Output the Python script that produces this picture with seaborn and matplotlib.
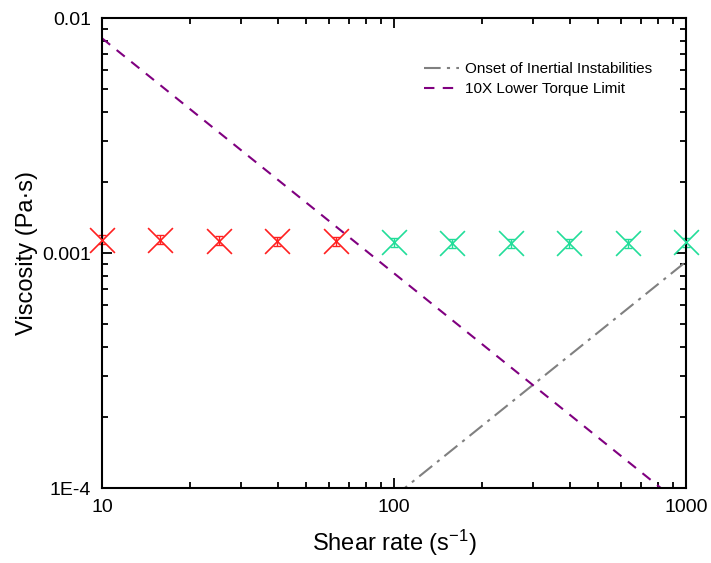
import numpy as np
import seaborn as sns
import matplotlib.pyplot as plt
import matplotlib.ticker as mticker

# measured viscosity points
rate_low = [10, 15.8, 25.1, 39.8, 63.1]
visc_low = [0.00114, 0.00114, 0.00113, 0.00112, 0.00112]
err_low = [0.00005, 0.00005, 0.00005, 0.00005, 0.00005]

rate_high = [100, 158, 251, 398, 631, 1000]
visc_high = [0.00111, 0.00110, 0.00110, 0.00110, 0.00110, 0.00111]
err_high = [0.00005, 0.00005, 0.00005, 0.00005, 0.00005, 0.00005]

# limit lines (straight in log-log, endpoints)
onset_rate = [100, 1000]
onset_visc = [0.000092, 0.00092]
torque_rate = [10, 1000]
torque_visc = [0.0082, 0.000082]

y_ticks = [1e-4, 1e-3, 1e-2]
y_labels = ['1E-4', '0.001', '0.01']
x_ticks = [10, 100, 1000]
x_labels = ['10', '100', '1000']

sns.set_style('ticks')
plt.rcParams['font.family'] = ['Liberation Sans', 'DejaVu Sans']
plt.rcParams['mathtext.fontset'] = 'custom'
plt.rcParams['mathtext.rm'] = 'Liberation Sans'
plt.rcParams['mathtext.it'] = 'Liberation Sans'
plt.rcParams['text.color'] = 'black'
plt.rcParams['axes.labelcolor'] = 'black'

fig, ax = plt.subplots(figsize=(7.11, 5.63), dpi=100)
fig.subplots_adjust(left=0.1435, right=0.965, top=0.968, bottom=0.133)

sns.lineplot(x=onset_rate, y=onset_visc, ax=ax, color='#808080', lw=1.5,
             linestyle=(0, (8, 3, 1.5, 3)), label='Onset of Inertial Instabilities')
sns.lineplot(x=torque_rate, y=torque_visc, ax=ax, color='#800080', lw=1.5,
             linestyle=(0, (5, 4)), label='10X Lower Torque Limit')

for r, v, e, c in [(rate_low, visc_low, err_low, '#ff2020'),
                   (rate_high, visc_high, err_high, '#22dd99')]:
    ax.errorbar(r, v, yerr=e, fmt='none', ecolor=c, elinewidth=1, capsize=3,
                capthick=1, clip_on=False)
    sns.scatterplot(x=r, y=v, ax=ax, marker='x', s=320, color=c, linewidth=1.2,
                    zorder=3, clip_on=False)

ax.set_xscale('log')
ax.set_yscale('log')
ax.set_xlim(10, 1000)
ax.set_ylim(1e-4, 1e-2)
ax.set_xticks(x_ticks)
ax.set_xticklabels(x_labels)
ax.set_yticks(y_ticks)
ax.set_yticklabels(y_labels)
ax.xaxis.set_minor_locator(mticker.LogLocator(base=10, subs=np.arange(2, 10)))
ax.yaxis.set_minor_locator(mticker.LogLocator(base=10, subs=np.arange(2, 10)))
ax.xaxis.set_minor_formatter(mticker.NullFormatter())
ax.yaxis.set_minor_formatter(mticker.NullFormatter())

ax.tick_params(which='both', direction='in', top=True, right=True, width=1.3,
               colors='black', labelcolor='black')
ax.tick_params(which='major', length=7, labelsize=14, pad=8)
ax.tick_params(which='minor', length=4)
for sp in ax.spines.values():
    sp.set_linewidth(1.5)
    sp.set_color('black')

ax.set_xlabel('Shear rate (s$^{-1}$)', fontsize=17, labelpad=8)
ax.set_ylabel('Viscosity (Pa·s)', fontsize=17, labelpad=3)

ax.legend(loc='upper right', bbox_to_anchor=(0.965, 0.935), frameon=False, fontsize=11,
          handlelength=2.3, handletextpad=0.35, labelspacing=0.4)

plt.savefig('out.png', dpi=100)
